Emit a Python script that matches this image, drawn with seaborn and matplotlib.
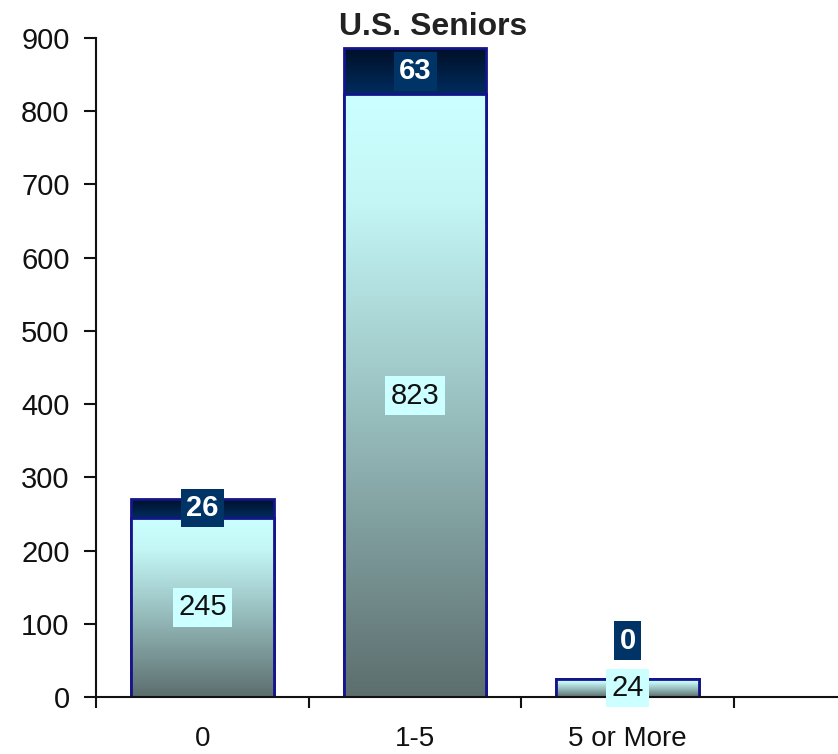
import numpy as np
import pandas as pd
import matplotlib
matplotlib.use("Agg")
import matplotlib.pyplot as plt
import seaborn as sns
from matplotlib.colors import LinearSegmentedColormap
from matplotlib.ticker import FixedLocator

categories = ["0", "1-5", "5 or More"]
bottom_values = [245, 823, 24]
top_values = [26, 63, 0]
yticks = list(range(0, 1000, 100))
title = "U.S. Seniors"

sns.set_theme(style="white")
plt.rcParams['font.family'] = ['Liberation Sans', 'DejaVu Sans']

df = pd.DataFrame({"cat": categories, "bottom": bottom_values, "top": top_values})
df["total"] = df["bottom"] + df["top"]

fig = plt.figure(figsize=(8.38, 7.54), dpi=100)
ax = fig.add_axes([96/838, 57/754, 742/838, 659/754])

edge = "#14148c"
W = 0.67
sns.barplot(data=df, x="cat", y="total", order=categories, color="#001a40",
            width=W, errorbar=None, saturation=1, ax=ax, edgecolor=edge, linewidth=2)
n_top = len(ax.patches)
sns.barplot(data=df, x="cat", y="bottom", order=categories, color="#9cc3c3",
            width=W, errorbar=None, saturation=1, ax=ax, edgecolor=edge, linewidth=2)

cmap_bottom = LinearSegmentedColormap.from_list(
    "bot", [(0, "#5c6e6e"), (0.5, "#9cc3c3"), (0.82, "#c4f6f6"), (1, "#ccffff")])
cmap_top = LinearSegmentedColormap.from_list("top", [(0, "#002c5e"), (1, "#000f26")])
grad = np.linspace(0, 1, 256).reshape(-1, 1)

patches = list(ax.patches)
for i, p in enumerate(patches[:n_top]):
    x0 = p.get_x(); w = p.get_width()
    y0 = bottom_values[i]; y1 = bottom_values[i] + top_values[i]
    if y1 > y0:
        im = ax.imshow(grad, cmap=cmap_top, extent=[x0, x0 + w, y0, y1],
                       origin="lower", aspect="auto", zorder=1.0)
        im.set_clip_path(p)
    p.set_facecolor("none"); p.set_zorder(1.5)
for i, p in enumerate(patches[n_top:]):
    x0 = p.get_x(); w = p.get_width(); h = p.get_height()
    if h > 0:
        im = ax.imshow(grad, cmap=cmap_bottom, extent=[x0, x0 + w, 0, h],
                       origin="lower", aspect="auto", zorder=2.0)
        im.set_clip_path(p)
    p.set_facecolor("none"); p.set_zorder(2.5)

# labels
for i in range(len(categories)):
    ax.annotate(str(bottom_values[i]), (i, bottom_values[i] / 2), ha="center", va="center",
                fontsize=21, color="#111111", zorder=5,
                bbox=dict(boxstyle="square,pad=0.18", fc="#ccffff", ec="none"))
    off = 28 if top_values[i] == 0 else 0
    ax.annotate(str(top_values[i]), (i, bottom_values[i] + top_values[i] / 2),
                xytext=(0, off), textcoords="offset points", ha="center", va="center",
                fontsize=21, color="white", fontweight="bold", zorder=5,
                bbox=dict(boxstyle="square,pad=0.18", fc="#003366", ec="none"))

ax.set_xlim(-0.5, 2.989)
ax.set_ylim(0, 900)
ax.set_yticks(yticks)
ax.set_yticklabels([str(t) for t in yticks])
ax.set_xticks(range(len(categories)))
ax.set_xticklabels(categories)
ax.xaxis.set_minor_locator(FixedLocator([-0.5, 0.5, 1.5, 2.5]))
ax.tick_params(axis="x", which="major", length=0, pad=21, labelsize=20, labelcolor="#111111")
ax.tick_params(axis="x", which="minor", bottom=True, length=8, width=1.5, direction="out", color="#111111")
ax.tick_params(axis="y", left=True, length=9, width=1.5, direction="out", pad=10,
               labelsize=21, labelcolor="#111111", color="#111111")
ax.set_xlabel(""); ax.set_ylabel("")
for s in ["top", "right"]:
    ax.spines[s].set_visible(False)
for s in ["left", "bottom"]:
    ax.spines[s].set_color("#111111")
    ax.spines[s].set_linewidth(1.5)
ax.set_facecolor("white")
ax.grid(False)

fig.text(433/838, 1 - 27/754, title, ha="center", va="center", fontsize=23,
         fontweight="bold", color="#222222")

fig.savefig("out.png", dpi=100, facecolor="white")
